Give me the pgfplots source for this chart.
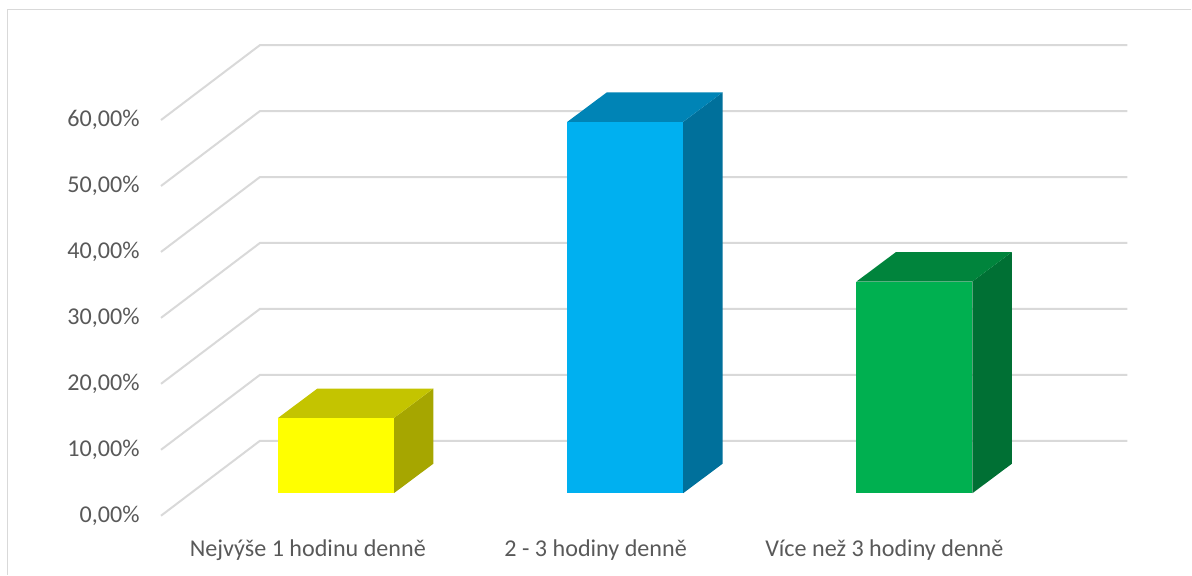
\documentclass[border=0pt]{standalone}
\usepackage{fontspec}
\setmainfont{Carlito}
\usepackage{pgfplots}
\pgfplotsset{compat=1.18}
\definecolor{txt}{HTML}{595959}
\definecolor{grd}{HTML}{D9D9D9}
\begin{document}
\begin{tikzpicture}
\begin{axis}[
  scale only axis, width=894pt, height=431.25pt,
  xmin=-1.1606, xmax=2.9568, ymin=-12.35, ymax=74.77,
  axis line style={draw=none}, major tick length=0pt,
  xtick={-0.097,0.898,1.896},
  xticklabels={Nejvýše 1 hodinu denně,2 - 3 hodiny denně,Více než 3 hodiny denně},
  ytick={-3.41,6.59,16.59,26.59,36.59,46.59,56.59},
  yticklabels={{0,00\%},{10,00\%},{20,00\%},{30,00\%},{40,00\%},{50,00\%},{60,00\%}},
  xticklabel style={font=\fontsize{18.1}{20}\selectfont, text=txt, anchor=center, yshift=18.5pt},
  yticklabel style={font=\fontsize{18.1}{20}\selectfont, text=txt, anchor=east, xshift=108.2pt},
  clip=false,
]
% chart frame
\addplot[grd, line width=1.2pt, forget plot] coordinates {(-1.135,-12.35) (-1.135,73.33) (2.9568,73.33)};
% gridlines (front end, back corner, right end)
\addplot[grd, line width=1.5pt, forget plot] coordinates {(-0.6045,-3.41) (-0.2625,7.95) (2.736,7.95)};
\addplot[grd, line width=1.5pt, forget plot] coordinates {(-0.6045,6.59) (-0.2625,17.95) (2.736,17.95)};
\addplot[grd, line width=1.5pt, forget plot] coordinates {(-0.6045,16.59) (-0.2625,27.95) (2.736,27.95)};
\addplot[grd, line width=1.5pt, forget plot] coordinates {(-0.6045,26.59) (-0.2625,37.95) (2.736,37.95)};
\addplot[grd, line width=1.5pt, forget plot] coordinates {(-0.6045,36.59) (-0.2625,47.95) (2.736,47.95)};
\addplot[grd, line width=1.5pt, forget plot] coordinates {(-0.6045,46.59) (-0.2625,57.95) (2.736,57.95)};
\addplot[grd, line width=1.5pt, forget plot] coordinates {(-0.6045,56.59) (-0.2625,67.95) (2.736,67.95)};
% yellow: 11.4
\addplot[draw=none, fill={rgb,255:red,166;green,166;blue,0}, forget plot] coordinates {(0.2003,0) (0.3367,4.47) (0.3367,15.87) (0.2003,11.4)} --cycle;
\addplot[draw=none, fill={rgb,255:red,196;green,196;blue,0}, forget plot] coordinates {(-0.2003,11.4) (0.2003,11.4) (0.3367,15.87) (-0.0639,15.87)} --cycle;
\addplot[draw=none, fill={rgb,255:red,255;green,255;blue,0}, forget plot] coordinates {(-0.2003,0) (0.2003,0) (0.2003,11.4) (-0.2003,11.4)} --cycle;
% blue: 56.3
\addplot[draw=none, fill={rgb,255:red,0;green,112;blue,155}, forget plot] coordinates {(1.2003,0) (1.3367,4.47) (1.3367,60.77) (1.2003,56.3)} --cycle;
\addplot[draw=none, fill={rgb,255:red,0;green,132;blue,182}, forget plot] coordinates {(0.7997,56.3) (1.2003,56.3) (1.3367,60.77) (0.9361,60.77)} --cycle;
\addplot[draw=none, fill={rgb,255:red,0;green,176;blue,240}, forget plot] coordinates {(0.7997,0) (1.2003,0) (1.2003,56.3) (0.7997,56.3)} --cycle;
% green: 32.1
\addplot[draw=none, fill={rgb,255:red,0;green,112;blue,52}, forget plot] coordinates {(2.2003,0) (2.3367,4.47) (2.3367,36.57) (2.2003,32.1)} --cycle;
\addplot[draw=none, fill={rgb,255:red,0;green,132;blue,60}, forget plot] coordinates {(1.7997,32.1) (2.2003,32.1) (2.3367,36.57) (1.9361,36.57)} --cycle;
\addplot[draw=none, fill={rgb,255:red,0;green,176;blue,80}, forget plot] coordinates {(1.7997,0) (2.2003,0) (2.2003,32.1) (1.7997,32.1)} --cycle;
\end{axis}
\end{tikzpicture}
\end{document}
